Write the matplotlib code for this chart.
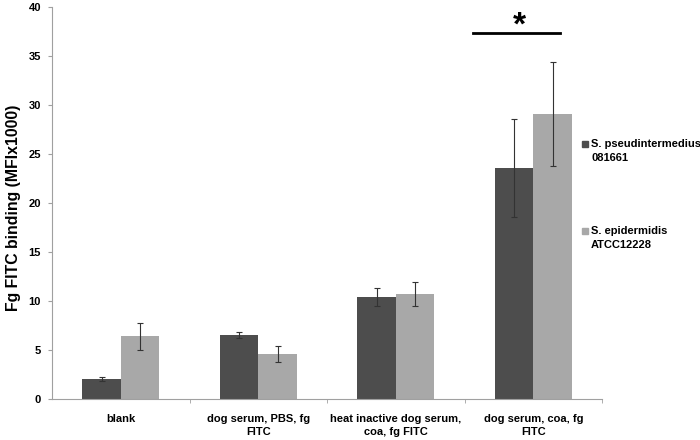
import matplotlib
matplotlib.use("Agg")
import matplotlib.pyplot as plt
import numpy as np
from matplotlib.patches import Rectangle

plt.rcParams['font.family'] = ['Liberation Sans', 'DejaVu Sans']

categories = ["blank", "dog serum, PBS, fg\nFITC", "heat inactive dog serum,\ncoa, fg FITC", "dog serum, coa, fg\nFITC"]
series_names = ["S. pseudintermedius\n081661", "S. epidermidis\nATCC12228"]
pseud_vals = [2.0, 6.5, 10.4, 23.6]
pseud_err = [0.2, 0.3, 0.9, 5.0]
epid_vals = [6.4, 4.6, 10.7, 29.1]
epid_err = [1.4, 0.8, 1.2, 5.3]
yticks = [0, 5, 10, 15, 20, 25, 30, 35, 40]

dark = "#4d4d4d"
light = "#a8a8a8"
axcol = "#a0a0a0"

fig = plt.figure(figsize=(7, 4.4), dpi=100)
ax = fig.add_axes([52/700, 1-399/440, 550/700, 392/440])

x = np.arange(len(categories))
w = 0.28
ekw = dict(ecolor="#333333", elinewidth=0.8, capsize=2.5, capthick=0.8)
ax.bar(x - w/2, pseud_vals, w, color=dark, yerr=pseud_err, error_kw=ekw, label=series_names[0])
ax.bar(x + w/2, epid_vals, w, color=light, yerr=epid_err, error_kw=ekw, label=series_names[1])

ax.set_xlim(-0.5, len(categories) - 0.5)
ax.set_ylim(0, 40)
ax.set_yticks(yticks)
ax.set_yticklabels([str(t) for t in yticks], fontweight="bold", fontsize=8)
ax.set_xticks(x)
ax.set_xticklabels(categories, fontweight="bold", fontsize=8, linespacing=1.35)
ax.tick_params(axis="x", which="major", length=0, pad=11)
ax.set_xticks(np.arange(len(categories)) + 0.5, minor=True)
ax.tick_params(axis="x", which="minor", length=3, color=axcol, direction="out")
ax.tick_params(axis="y", length=3, color=axcol, pad=5)

for s in ["top", "right"]:
    ax.spines[s].set_visible(False)
for s in ["left", "bottom"]:
    ax.spines[s].set_color(axcol)
    ax.spines[s].set_linewidth(0.8)

ax.set_ylabel("Fg FITC binding (MFIx1000)", fontweight="bold", fontsize=11.4)
ax.yaxis.set_label_coords(-0.0564, 0.487)

# significance bar
ax.plot([2.56, 3.195], [37.35, 37.35], color="black", lw=2, clip_on=False)
ax.text(2.9, 38.1, "*", ha="center", va="center", fontsize=24, fontweight="bold")

# legend (drawn manually to match layout)
leg_colors = [dark, light]
leg_y = [144, 231]
for name, col, yp in zip(series_names, leg_colors, leg_y):
    fig.patches.append(Rectangle((582/700, 1-(yp+3)/440), 6/700, 6/440,
                                 transform=fig.transFigure, color=col))
    fig.text(591/700, 1-(yp-5)/440, name, ha="left", va="top", fontsize=8,
             fontweight="bold", linespacing=1.55)

fig.savefig("out.png", dpi=100)
